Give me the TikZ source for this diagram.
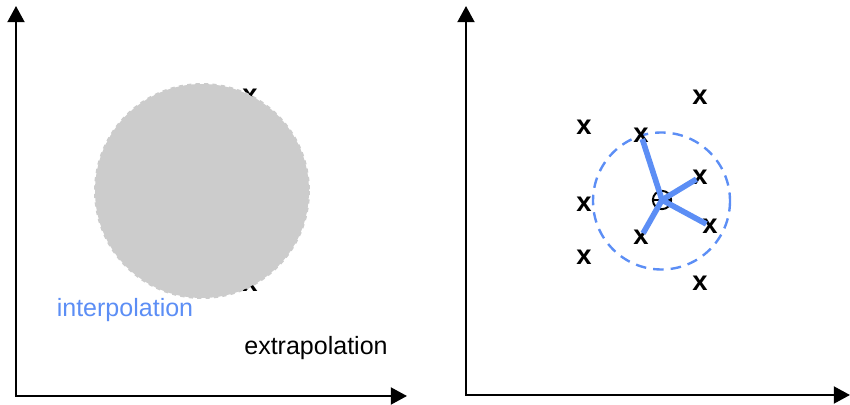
\documentclass[tikz,border=0pt]{standalone}
\usepackage{fontspec}
\setmainfont{Liberation Sans}
\usetikzlibrary{arrows.meta,positioning}
\definecolor{nnblue}{RGB}{92,142,245}
\definecolor{regiongray}{RGB}{204,204,204}

\begin{document}
\begin{tikzpicture}[x=0.025cm,y=-0.025cm,
  axis/.style={line width=1.7pt, {Triangle[length=11.5pt,width=12pt]}-{Triangle[length=11.5pt,width=12pt]}},
  pt/.style={font=\fontsize{19.5}{20}\selectfont\bfseries, inner sep=0pt},
  lbl/.style={font=\fontsize{17.8}{20}\selectfont, inner sep=0pt},
  nnline/.style={nnblue, line width=4pt, shorten >=3pt}]
\useasboundingbox (0,0) rectangle (850,405);
% left: interpolation vs extrapolation
\coordinate (ly) at (16,6);
\coordinate (lx) at (407,396);
\draw[axis] (ly) |- (lx);
\node[pt] (la) at (250,96) {x};
\node[pt] (lb) at (250,284) {x};
\draw[regiongray, fill=regiongray, dashed, line width=1.4pt] (202,191) circle [radius=107];
\node[lbl, text=nnblue] (interp) at (125,310) {interpolation};
\node[lbl] (extrap) at (316,348) {extrapolation};
% right: nearest neighbours
\coordinate (ry) at (466,6);
\coordinate (rx) at (850,395);
\draw[axis] (ry) |- (rx);
\draw[nnblue, dash pattern=on 7.5pt off 5pt, line width=1.7pt] (661.5,201) circle [radius=68.5];
\foreach \n/\x/\y in {1/700/97, 2/584/127, 3/641/135, 4/700/177, 5/584/204,
                      6/710/226, 7/641/237, 8/584/257, 9/700/283} {
  \node[pt] (r\n) at (\x,\y) {x};
}
\node[circle, draw, line width=1.4pt, minimum size=13pt, inner sep=0pt] (c) at (662,200) {};
\draw[line width=1.4pt] (c.west) -- (c.east);
\foreach \t in {3,4,6,7}
  \draw[nnline] (c.center) -- (r\t.center);
\end{tikzpicture}
\end{document}
